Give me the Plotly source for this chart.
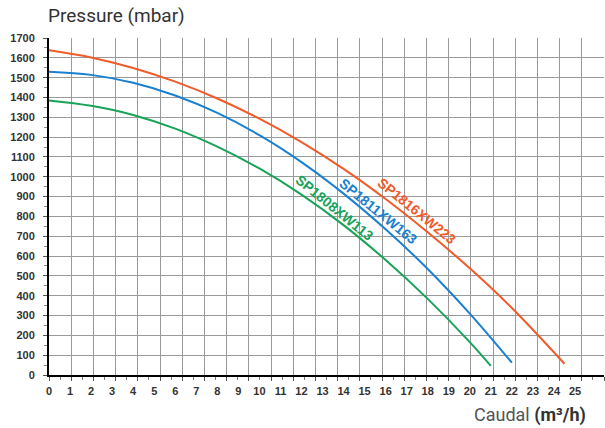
import plotly.graph_objects as go

# Data
q_red = [0, 2, 4, 6, 8, 10, 12, 14, 16, 18, 20, 22, 24.5]
p_red = [1638, 1602, 1549, 1480, 1395, 1293, 1175, 1040, 888, 720, 538, 338, 57]

q_blue = [0, 2, 4, 6, 8, 10, 12, 14, 16, 18, 20, 22]
p_blue = [1530, 1514, 1474, 1410, 1322, 1210, 1074, 915, 735, 535, 310, 62]

q_green = [0, 2, 4, 6, 8, 10, 12, 14, 16, 18, 20, 21]
p_green = [1385, 1358, 1312, 1243, 1152, 1042, 910, 756, 580, 384, 166, 46]

names = ["SP1816XW223", "SP1811XW163", "SP1808XW113"]
colors = ["#f15a29", "#1a80d0", "#17a358"]
label_pos = [(17.49, 828), (15.64, 828), (13.59, 843)]

x_ticks = list(range(0, 26))
y_ticks = list(range(0, 1701, 100))

fig = go.Figure()
# empty trace so the grid axis (x) is drawn
fig.add_trace(go.Scatter(x=[], y=[], xaxis="x", yaxis="y", showlegend=False, hoverinfo="skip"))
for q, p, name, col in zip([q_red, q_blue, q_green], [p_red, p_blue, p_green], names, colors):
    fig.add_trace(go.Scatter(x=q, y=p, mode="lines", name=name, xaxis="x2", yaxis="y",
                             line=dict(color=col, width=2, shape="spline", smoothing=1.0),
                             showlegend=False, hoverinfo="skip"))

for name, col, (lx, ly) in zip(names, colors, label_pos):
    fig.add_annotation(x=lx, y=ly, xref="x2", yref="y", text=name, showarrow=False,
                       textangle=39, font=dict(family="Liberation Sans", size=14, color=col,
                                                weight="bold"))

fig.add_annotation(x=-0.006, y=1.068, xref="paper", yref="paper", xanchor="left", yanchor="middle",
                   text="Pressure (mbar)", showarrow=False,
                   font=dict(family="Roboto", size=19, color="#333333"))
fig.add_annotation(x=0.972, y=-0.119, xref="paper", yref="paper", xanchor="right", yanchor="middle",
                   text="<span style='color:#555555'>Caudal</span> <b>(m³/h)</b>", showarrow=False,
                   font=dict(family="Roboto", size=18, color="#333333"))

fig.update_layout(
    width=605, height=428,
    margin=dict(l=49, r=1, t=38, b=53, autoexpand=False),
    paper_bgcolor="white", plot_bgcolor="white",
    xaxis=dict(range=[0, 25], dtick=1, tick0=0,
               showgrid=True, gridcolor="#9a9a9a", gridwidth=1,
               showticklabels=False, ticks="outside", ticklen=4, tickcolor="#555", automargin=False,
               minor=dict(dtick=0.5, ticks="outside", ticklen=3, tickcolor="#777", showgrid=False),
               showline=True, linecolor="black", linewidth=2, zeroline=False),
    xaxis2=dict(overlaying="x", side="bottom", anchor="y", range=[0, 555 / 21.04], tickmode="array",
                tickvals=x_ticks, ticktext=[str(v) for v in x_ticks], showgrid=False, ticks="",
                ticklabelstandoff=8, zeroline=False, showline=False, automargin=False,
                tickfont=dict(family="Liberation Sans", size=11, color="#333333", weight="bold")),
    yaxis=dict(range=[0, 1700], tickmode="array", tickvals=y_ticks, ticktext=[str(v) for v in y_ticks],
               showgrid=True, gridcolor="#9a9a9a", gridwidth=1, ticks="outside", ticklen=4,
               tickcolor="#555", ticklabelstandoff=6, automargin=False,
               minor=dict(dtick=50, ticks="outside", ticklen=3, tickcolor="#888", showgrid=False),
               showline=True, linecolor="black", linewidth=2, zeroline=False,
               tickfont=dict(family="Liberation Sans", size=11, color="#333333", weight="bold")),
)

fig.write_html("out.html", config={"displayModeBar": False},
               post_script="document.body.style.margin='0';document.body.style.overflow='hidden';")
